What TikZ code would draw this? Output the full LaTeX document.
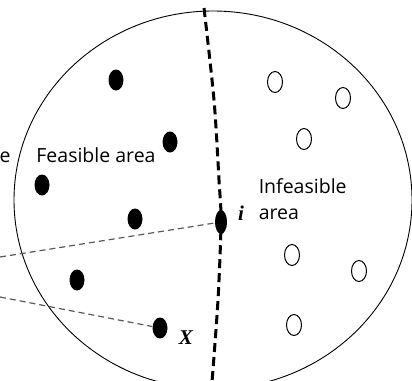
\documentclass[tikz,border=0pt]{standalone}
\usepackage{fontspec}
\setmainfont{Open Sans}
\newfontfamily\varfont{Liberation Serif}
\usetikzlibrary{shapes.geometric}

\begin{document}
\begin{tikzpicture}[x=1pt,y=-1pt,line width=0.9pt,
  feas/.style={ellipse,fill,inner sep=0pt,minimum width=15pt,minimum height=21pt},
  infeas/.style={ellipse,draw,line width=1pt,inner sep=0pt,minimum width=15pt,minimum height=21pt},
  guide/.style={gray!70!black,line width=1.2pt,dash pattern=on 6pt off 4pt},
  frontier/.style={line width=3pt,dash pattern=on 9pt off 5pt},
  lbl/.style={font=\fontsize{19.5}{26}\selectfont},
  var/.style={font=\varfont\bfseries\itshape\fontsize{21}{21}\selectfont}]
  \useasboundingbox (0,0) rectangle (412,380);
  \clip (0,0) rectangle (412,380);
  \draw (213,200) ellipse [x radius=199,y radius=189];
  % puntos factibles
  \node[feas] (f1) at (116,80) {};
  \node[feas] (f2) at (170,142) {};
  \node[feas] (f3) at (42,185) {};
  \node[feas] (f4) at (135,219) {};
  \node[feas] (f5) at (77,280) {};
  \node[feas] (X) at (160,328) {};
  \node[feas,minimum width=12pt,minimum height=24pt] (i) at (221,222) {};
  % puntos no factibles
  \node[infeas] (n1) at (275,82) {};
  \node[infeas] (n2) at (343,98) {};
  \node[infeas] (n3) at (304,139) {};
  \node[infeas] (n4) at (292,255) {};
  \node[infeas] (n5) at (359,271) {};
  \node[infeas] (n6) at (294,325) {};
  % frontera
  \coordinate (Top) at (204,8);
  \coordinate (Bot) at (212,382);
  \draw[frontier] plot[smooth] coordinates {(Top) (214,100) (219,180) (i.center) (218,300) (Bot)};
  \coordinate (L1) at (0,257);
  \coordinate (L2) at (0,297);
  \draw[guide] (L1) -- (i);
  \draw[guide] (L2) -- (X);
  \node[lbl,anchor=east,inner sep=0pt] (cut) at (11,157) {e};
  \node[lbl] (fa) at (96,155) {Feasible area};
  \node[lbl,anchor=west,align=left] (ia) at (255,199) {Infeasible\\area};
  \node[var] (il) at (241,213) {i};
  \node[var] (Xl) at (186,338) {X};
\end{tikzpicture}
\end{document}
